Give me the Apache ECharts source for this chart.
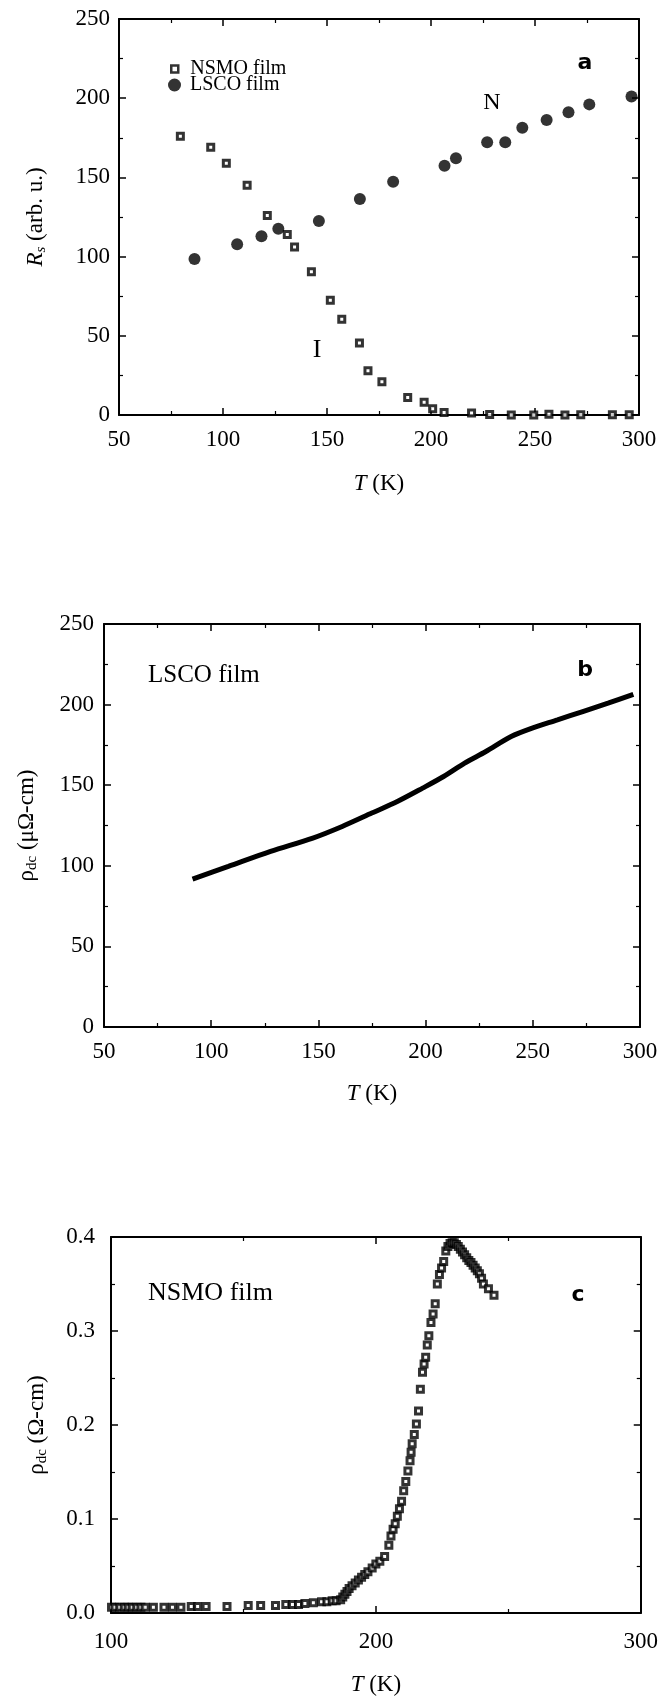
<!DOCTYPE html>
<html><head><meta charset="utf-8">
<script src="https://cdn.jsdelivr.net/npm/echarts@6/dist/echarts.min.js"></script>
<style>html,body{margin:0;padding:0;background:#fff}#c{width:661px;height:1701px}</style>
</head><body><div id="c"></div>
<script>
// ---- Panel a: surface resistance ----
const nsmoA_T = [79.5, 94.1, 101.6, 111.6, 121.3, 130.9, 134.4, 142.5, 151.6, 157.1, 165.6, 169.7, 176.4, 188.8, 196.7, 200.8, 206.3, 219.5, 228.2, 238.6, 249.4, 256.7, 264.4, 272, 287.2, 295.3];
const nsmoA_R = [176, 169, 159, 145, 126, 114, 106, 90.5, 72.5, 60.5, 45.5, 28, 21, 11, 8, 4, 1.5, 1.3, 0.3, 0, 0, 0.5, 0, 0.2, 0.1, 0.1];
const lscoA_T = [86.3, 106.8, 118.5, 126.6, 146.1, 165.8, 181.8, 206.5, 212, 227, 235.7, 243.9, 255.6, 266.1, 276.1, 296.4];
const lscoA_R = [98.5, 107.8, 112.8, 117.6, 122.5, 136.4, 147.3, 157.4, 162.1, 172.2, 172.2, 181.4, 186.2, 191.1, 196.1, 201];
// ---- Panel b: LSCO dc resistivity ----
const lscoB_T = [91.3, 108, 127.7, 147.4, 161.1, 174.9, 186.8, 198.6, 208.4, 218.2, 228.1, 239.9, 249.7, 261.5, 273.3, 285.1, 296.9];
const lscoB_rho = [91.8, 99.6, 108.9, 117.2, 124.4, 132.7, 139.9, 148.2, 155.4, 163.7, 170.9, 180.2, 185.4, 190.5, 195.7, 200.9, 206.4];
// ---- Panel c: NSMO dc resistivity ----
const nsmoC_T = [100.2, 101.5, 103.3, 105, 106.5, 108, 109.7, 111.3, 112.9, 116, 120, 123.2, 126.4, 130.3, 132.7, 135.9, 143.8, 151.8, 156.5, 162.1, 166, 168.5, 170.8, 173.2, 176.4, 179.5, 181.5, 183.5, 185, 186.7, 187.5, 188.3, 189.1, 189.9, 191, 192.2, 193.4, 194.6, 195.8, 197, 198.6, 200, 201.5, 203.3, 204.9, 205.7, 206.5, 207.3, 208.1, 208.9, 209.7, 210.5, 211.3, 212.1, 212.9, 213.3, 213.7, 214.5, 215.3, 216.1, 216.8, 217.6, 218.2, 218.8, 219.4, 220, 220.8, 221.6, 222.4, 223.2, 224, 224.8, 225.6, 226.4, 227.2, 228, 228.8, 229.6, 230.4, 231.1, 231.9, 232.7, 233.5, 234.3, 235.1, 235.9, 236.7, 237.5, 238.3, 239.1, 239.9, 240.6, 242.5, 244.6];
const nsmoC_rho = [0.006, 0.006, 0.006, 0.006, 0.006, 0.006, 0.006, 0.006, 0.006, 0.006, 0.006, 0.006, 0.006, 0.007, 0.007, 0.007, 0.007, 0.008, 0.008, 0.008, 0.009, 0.009, 0.009, 0.010, 0.011, 0.012, 0.012, 0.013, 0.013, 0.014, 0.017, 0.020, 0.023, 0.026, 0.029, 0.032, 0.035, 0.038, 0.041, 0.044, 0.048, 0.052, 0.055, 0.060, 0.072, 0.082, 0.089, 0.095, 0.103, 0.111, 0.119, 0.130, 0.140, 0.151, 0.162, 0.171, 0.180, 0.190, 0.201, 0.215, 0.238, 0.256, 0.265, 0.272, 0.285, 0.295, 0.309, 0.318, 0.329, 0.350, 0.360, 0.367, 0.374, 0.385, 0.390, 0.393, 0.394, 0.394, 0.392, 0.390, 0.387, 0.384, 0.381, 0.378, 0.375, 0.373, 0.370, 0.367, 0.364, 0.361, 0.356, 0.350, 0.345, 0.338];

const xTicksA = [50, 300, 50];   // min, max, interval
const yTicksA = [0, 250, 50];
const xTicksB = [50, 300, 50];
const yTicksB = [0, 250, 50];
const xTicksC = [100, 300, 100];
const yTicksC = [0, 0.4, 0.1];

const FONT = 'Liberation Serif';
const pair = (xs, ys) => xs.map((x, i) => [x, ys[i]]);

const chart = echarts.init(document.getElementById('c'));

const grids = [
  {left: 119, top: 19, width: 520, height: 396},
  {left: 104, top: 624, width: 536, height: 403},
  {left: 111, top: 1237, width: 532, height: 376}
];

const tickStyle = {show: true, inside: true, length: 7, lineStyle: {color: '#000', width: 1.5}};
const minorStyle = {show: true, splitNumber: 2, length: 4, lineStyle: {color: '#000', width: 1.2}};
const lineStyle = {show: true, onZero: false, lineStyle: {color: '#000', width: 2}};

function mkAxis(gi, tk, pos, showLabel, extra) {
  return Object.assign({
    type: 'value', gridIndex: gi, position: pos,
    min: tk[0], max: tk[1], interval: tk[2],
    axisLine: lineStyle, axisTick: tickStyle, minorTick: minorStyle,
    splitLine: {show: false}, minorSplitLine: {show: false},
    axisLabel: {show: showLabel, color: '#000', fontFamily: FONT, fontSize: 23},
  }, extra || {});
}

const nameStyle = {
  color: '#000', fontFamily: FONT, fontSize: 23,
  rich: {
    it: {fontFamily: FONT, fontStyle: 'italic', fontSize: 23, color: '#000'},
    n: {fontFamily: FONT, fontSize: 23, color: '#000'},
    sub: {fontFamily: FONT, fontStyle: 'italic', fontSize: 15, color: '#000', verticalAlign: 'bottom', padding: [12, 0, 0, 0]},
    sub2: {fontFamily: FONT, fontSize: 15, color: '#000', verticalAlign: 'bottom', padding: [12, 0, 0, 0]}
  }
};

const xName = '{it|T}{n| (K)}';

const xAxes = [
  mkAxis(0, xTicksA, 'bottom', true, {name: xName, nameLocation: 'middle', nameGap: 57, nameTextStyle: nameStyle, axisLabel: {show: true, color: '#000', fontFamily: FONT, fontSize: 23, margin: 13}}),
  mkAxis(0, xTicksA, 'top', false),
  mkAxis(1, xTicksB, 'bottom', true, {name: xName, nameLocation: 'middle', nameGap: 55, nameTextStyle: nameStyle, axisLabel: {show: true, color: '#000', fontFamily: FONT, fontSize: 23, margin: 13}}),
  mkAxis(1, xTicksB, 'top', false),
  mkAxis(2, xTicksC, 'bottom', true, {name: xName, nameLocation: 'middle', nameGap: 60, nameTextStyle: nameStyle, axisLabel: {show: true, color: '#000', fontFamily: FONT, fontSize: 23, margin: 17}}),
  mkAxis(2, xTicksC, 'top', false)
];
const yAxes = [
  mkAxis(0, yTicksA, 'left', true, {name: '{it|R}{sub|s}{n| (arb. u.)}', nameLocation: 'middle', nameGap: 70, nameRotate: 90, nameTextStyle: nameStyle, axisLabel: {show: true, color: '#000', fontFamily: FONT, fontSize: 23, margin: 9}}),
  mkAxis(0, yTicksA, 'right', false),
  mkAxis(1, yTicksB, 'left', true, {name: '{n|ρ}{sub2|dc}{n| (μΩ-cm)}', nameLocation: 'middle', nameGap: 64, nameRotate: 90, nameTextStyle: nameStyle, axisLabel: {show: true, color: '#000', fontFamily: FONT, fontSize: 23, margin: 10}}),
  mkAxis(1, yTicksB, 'right', false),
  mkAxis(2, yTicksC, 'left', true, {name: '{n|ρ}{sub2|dc}{n| (Ω-cm)}', nameLocation: 'middle', nameGap: 61, nameRotate: 90, nameTextStyle: nameStyle, axisLabel: {show: true, color: '#000', fontFamily: FONT, fontSize: 23, margin: 16, formatter: v => v.toFixed(1)}}),
  mkAxis(2, yTicksC, 'right', false)
];

const sqStyle = {color: '#fff', borderColor: '#000', borderWidth: 3};

const option = {
  backgroundColor: '#fff',
  animation: false,
  grid: grids.map(g => Object.assign({show: false, containLabel: false}, g)),
  xAxis: xAxes,
  yAxis: yAxes,
  legend: [
    {data: [{name: 'NSMO film', icon: 'rect'}], left: 165, top: 54, itemWidth: 7, itemHeight: 7,
     itemStyle: {color: '#fff', borderColor: '#000', borderWidth: 2.5},
     textStyle: {fontFamily: FONT, fontSize: 20, color: '#000', padding: [0, 0, 0, 7]}},
    {data: [{name: 'LSCO film', icon: 'circle'}], left: 163, top: 70, itemWidth: 13, itemHeight: 13,
     textStyle: {fontFamily: FONT, fontSize: 20, color: '#000', padding: [0, 0, 0, 4]}}
  ],
  series: [
    {name: 'NSMO film', type: 'scatter', xAxisIndex: 0, yAxisIndex: 0, symbol: 'rect', symbolSize: 6,
     itemStyle: sqStyle, data: pair(nsmoA_T, nsmoA_R), z: 3},
    {name: 'LSCO film', type: 'scatter', xAxisIndex: 0, yAxisIndex: 0, symbol: 'circle', symbolSize: 12,
     itemStyle: {color: '#000'}, data: pair(lscoA_T, lscoA_R), z: 3},
    {name: 'LSCO dc', type: 'line', xAxisIndex: 2, yAxisIndex: 2, showSymbol: false, smooth: 0.3,
     lineStyle: {color: '#000', width: 5}, data: pair(lscoB_T, lscoB_rho)},
    {name: 'NSMO dc', type: 'scatter', xAxisIndex: 4, yAxisIndex: 4, symbol: 'rect', symbolSize: 6,
     itemStyle: sqStyle, data: pair(nsmoC_T, nsmoC_rho)}
  ],
  graphic: [
    {type: 'text', x: 492, y: 103, style: {text: 'N', font: '24px "Liberation Serif"', fill: '#000', align: 'center', verticalAlign: 'middle'}},
    {type: 'text', x: 317, y: 350, style: {text: 'I', font: '26px "Liberation Serif"', fill: '#000', align: 'center', verticalAlign: 'middle'}},
    {type: 'text', x: 585, y: 63, style: {text: 'a', font: 'bold 22px "DejaVu Sans"', fill: '#000', align: 'center', verticalAlign: 'middle'}},
    {type: 'text', x: 148, y: 675, style: {text: 'LSCO film', font: '25px "Liberation Serif"', fill: '#000', align: 'left', verticalAlign: 'middle'}},
    {type: 'text', x: 585, y: 670, style: {text: 'b', font: 'bold 22px "DejaVu Sans"', fill: '#000', align: 'center', verticalAlign: 'middle'}},
    {type: 'text', x: 148, y: 1293, style: {text: 'NSMO film', font: '26px "Liberation Serif"', fill: '#000', align: 'left', verticalAlign: 'middle'}},
    {type: 'text', x: 578, y: 1295, style: {text: 'c', font: 'bold 22px "DejaVu Sans"', fill: '#000', align: 'center', verticalAlign: 'middle'}}
  ]
};
chart.setOption(option);
</script>
</body></html>
